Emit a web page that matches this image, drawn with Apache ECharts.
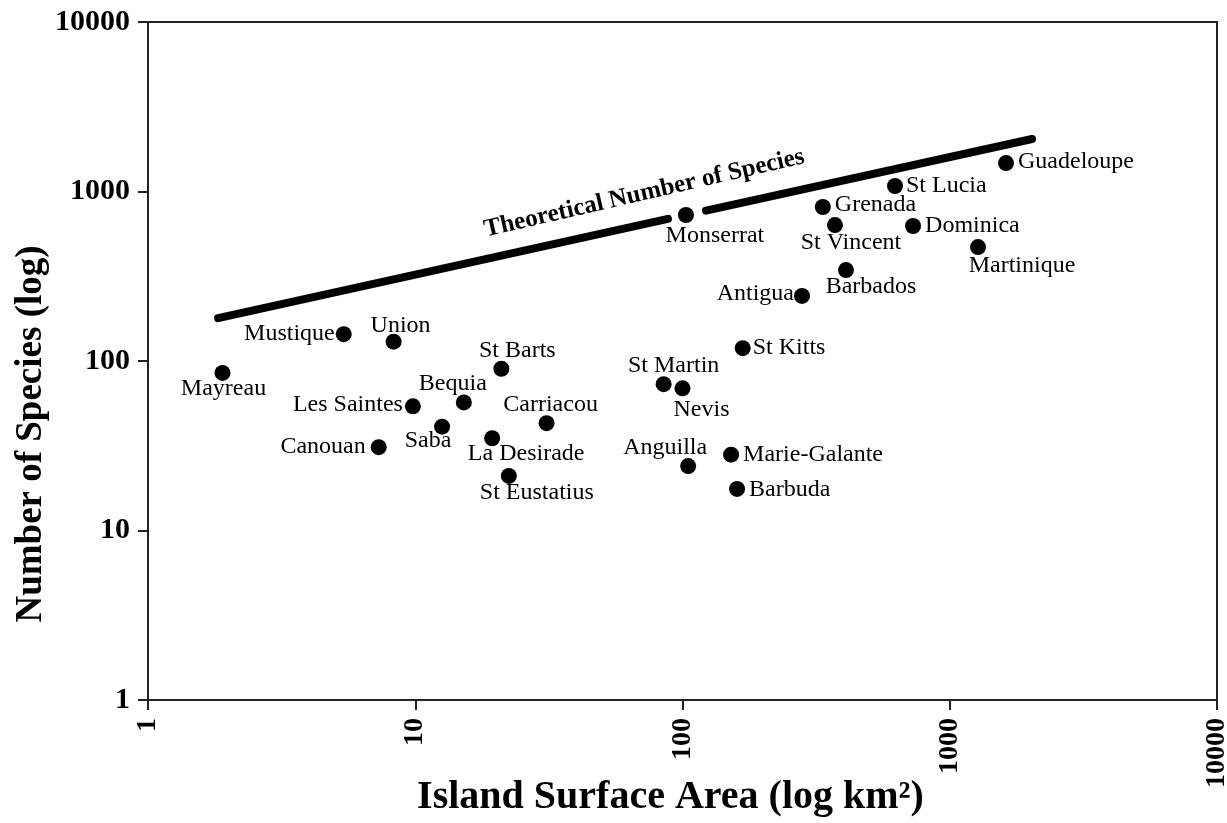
<!DOCTYPE html>
<html>
<head>
<meta charset="utf-8">
<title>Island species-area</title>
<script src="https://cdn.jsdelivr.net/npm/echarts@6/dist/echarts.min.js"></script>
<style>
  html, body { margin: 0; padding: 0; background: #fff; }
  #chart { width: 1227px; height: 823px; }
</style>
</head>
<body>
<div id="chart"></div>
<script>
// island data (area in km2, number of species)
var islands = ['Mayreau', 'Mustique', 'Union', 'St Barts', 'Bequia', 'Les Saintes', 'Carriacou',
  'Saba', 'La Desirade', 'Canouan', 'St Eustatius', 'Monserrat', 'Grenada', 'St Vincent',
  'St Lucia', 'Dominica', 'Martinique', 'Barbados', 'Antigua', 'Guadeloupe', 'St Kitts',
  'St Martin', 'Nevis', 'Anguilla', 'Marie-Galante', 'Barbuda'];
var areaKm2 = [1.9, 5.4, 8.3, 21, 15.2, 9.8, 31, 12.6, 19.4, 7.3, 22.4, 103, 335, 372,
  624, 729, 1276, 409, 280, 1624, 168, 85, 100, 105, 152, 160];
var species = [85, 144, 130, 90, 57, 54, 43, 41, 35, 31, 21, 727, 810, 634,
  1078, 626, 470, 344, 242, 1472, 119, 73, 69, 24, 28, 17.6];

// theoretical species-area line (two pieces, broken around Monserrat)
var theoryArea = [1.83, 88.2, 122.5, 2032];
var theorySpecies = [179, 689, 771, 2041];
var theoryLabel = 'Theoretical Number of Species';
var theoryLabelAt = [72, 975];

var tickLabels = ['1', '10', '100', '1000', '10000'];

// where each name sits relative to its dot: [position, dx, dy]
var labelSpots = {
  'Mayreau': ['inside', 1, 16], 'Mustique': ['left', 1, 0], 'Union': ['inside', 7, -16],
  'St Barts': ['inside', 16, -18], 'Bequia': ['inside', -11, -19], 'Les Saintes': ['left', 2, -2],
  'Carriacou': ['inside', 4, -18], 'Saba': ['inside', -14, 14], 'La Desirade': ['inside', 34, 15],
  'Canouan': ['left', 5, -1], 'St Eustatius': ['inside', 28, 17], 'Monserrat': ['inside', 29, 21],
  'Grenada': ['right', 4, -2], 'St Vincent': ['inside', 16, 18], 'St Lucia': ['right', 3, 0],
  'Dominica': ['right', 4, 0], 'Martinique': ['inside', 44, 19], 'Barbados': ['inside', 25, 17],
  'Antigua': ['left', 0, -2], 'Guadeloupe': ['right', 4, -1], 'St Kitts': ['right', 2, 0],
  'St Martin': ['inside', 10, -18], 'Nevis': ['inside', 19, 21], 'Anguilla': ['inside', -23, -18],
  'Marie-Galante': ['right', 4, 0], 'Barbuda': ['right', 4, 1]
};

var serif = '"Liberation Serif", "DejaVu Serif", serif';
var ink = '#000';

var points = islands.map(function (name, i) {
  var s = labelSpots[name];
  var lab = { show: true, position: s[0], formatter: name };
  if (s[0] === 'inside') {
    lab.offset = [s[1], s[2]];
    lab.align = 'center';
    lab.verticalAlign = 'middle';
  } else {
    lab.distance = s[1];
    lab.offset = [0, s[2]];
  }
  return { name: name, value: [areaKm2[i], species[i]], label: lab };
});

function segment(a, b) {
  var out = [];
  for (var i = a; i <= b; i++) out.push([theoryArea[i], theorySpecies[i]]);
  return out;
}

var lineStyle = { color: ink, width: 8, cap: 'round' };

var chart = echarts.init(document.getElementById('chart'));
chart.setOption({
  animation: false,
  backgroundColor: '#fff',
  grid: {
    left: 148, right: 10, top: 22, bottom: 123, outerBoundsMode: 'none', containLabel: false,
    show: true, borderColor: '#222', borderWidth: 2
  },
  xAxis: {
    type: 'log', logBase: 10, min: 1, max: 10000,
    name: 'Island Surface Area (log km²)',
    nameLocation: 'middle', nameGap: 78, nameMoveOverlap: false,
    nameTextStyle: { fontFamily: serif, fontSize: 40, fontWeight: 'bold', color: ink, padding: [0, 24, 0, 0] },
    axisLine: { lineStyle: { color: '#222', width: 2 } },
    axisTick: { length: 10, lineStyle: { color: '#222', width: 2 } },
    axisLabel: {
      rotate: 90, margin: 18, fontFamily: serif, fontSize: 28, fontWeight: 'bold', color: ink,
      formatter: function (v) { return tickLabels[Math.round(Math.log10(v))]; }
    },
    splitLine: { show: false },
    minorTick: { show: false }
  },
  yAxis: {
    type: 'log', logBase: 10, min: 1, max: 10000,
    name: 'Number of Species (log)',
    nameLocation: 'middle', nameGap: 98, nameMoveOverlap: false,
    nameTextStyle: { fontFamily: serif, fontSize: 37, fontWeight: 'bold', color: ink, padding: [0, 146, 0, 0] },
    axisLine: { lineStyle: { color: '#222', width: 2 } },
    axisTick: { length: 10, lineStyle: { color: '#222', width: 2 } },
    axisLabel: {
      margin: 18, fontFamily: serif, fontSize: 30, fontWeight: 'bold', color: ink,
      formatter: function (v) { return tickLabels[Math.round(Math.log10(v))]; }
    },
    splitLine: { show: false }
  },
  series: [
    {
      type: 'line', data: segment(0, 1), symbol: 'none', lineStyle: lineStyle, silent: true
    },
    {
      type: 'line', data: segment(2, 3), symbol: 'none', lineStyle: lineStyle, silent: true
    },
    {
      type: 'scatter', data: [theoryLabelAt], symbolSize: 0, silent: true,
      itemStyle: { opacity: 1 },
      label: {
        show: true, position: 'inside', rotate: 13, formatter: theoryLabel,
        fontFamily: serif, fontSize: 25, fontWeight: 'bold', color: ink
      }
    },
    {
      type: 'scatter', data: points, symbol: 'circle', symbolSize: 16,
      itemStyle: { color: ink, opacity: 1 },
      label: { fontFamily: serif, fontSize: 24, color: ink }
    }
  ]
});
</script>
</body>
</html>
